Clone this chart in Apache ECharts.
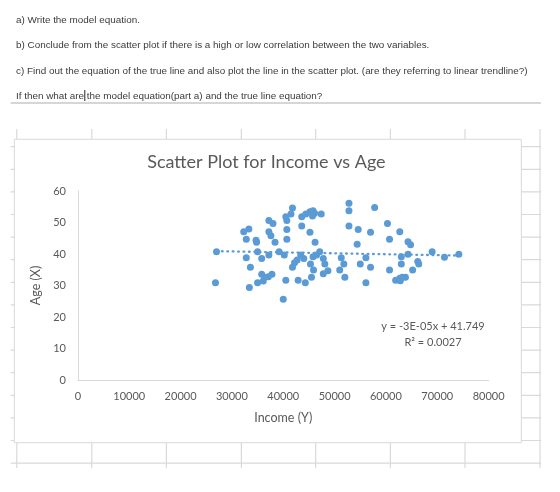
<!DOCTYPE html>
<html>
<head>
<meta charset="utf-8">
<script src="https://cdn.jsdelivr.net/npm/echarts@6/dist/echarts.min.js"></script>
<style>
html,body{margin:0;padding:0;background:#fff;}
#c{width:560px;height:492px;}
</style>
</head>
<body>
<div id="c"></div>
<script>
// ---- Data ----
const questionLines = [
  "a) Write the model equation.",
  "b) Conclude from the scatter plot if there is a high or low correlation between the two variables.",
  "c) Find out the equation of the true line and also plot the line in the scatter plot. (are they referring to linear trendline?)",
  "If then what are the model equation(part a) and the true line equation?"
];
const chartTitle = "Scatter Plot for Income vs Age";
const xAxisTitle = "Income (Y)";
const yAxisTitle = "Age (X)";
const trendEquation = "y = -3E-05x + 41.749";
const trendR2 = "R² = 0.0027";

// Income (x) values
const income = [
  27000, 26800, 32300, 33300, 32800, 34700, 34800, 35000, 32800, 33600,
  33400, 35000, 35800, 37200, 38000, 37200, 37600, 38400, 37200, 39200,
  35800, 36400, 37100, 37800, 40500, 40700, 41800, 41500, 40700, 40700,
  40200, 40500, 40000, 43600, 44400, 45200, 45800, 46100, 45700, 47400,
  43600, 45200, 46200, 42900, 44300, 41800, 42200, 42700, 43400, 44000,
  45300, 45900, 45500, 47100, 45800, 47800, 48100, 47800, 48700, 52800,
  52800, 52800, 54600, 57000, 57800, 54400, 51300, 51800, 51000, 52000,
  56100, 55000, 57000, 56100, 60300, 62700, 60700, 64300, 64800, 63000,
  64300, 63000, 60700, 66200, 66400, 65200, 69000, 71400, 74200, 61900,
  62700, 63200, 63800, 62800, 36100, 46500
];
// Age (y) values
const age = [
  40.7, 30.9, 47.1, 47.9, 44.7, 44.4, 43.7, 40.7, 38.8, 35.8,
  29.4, 30.9, 38.6, 50.6, 49.7, 47.1, 45.8, 43.7, 39.7, 40.7,
  33.6, 32.6, 32.8, 33.6, 51.8, 50.6, 54.6, 52.7, 47.8, 44.7,
  39.7, 31.7, 25.6, 51.8, 52.7, 53.4, 53.7, 52.9, 52.1, 52.7,
  48.9, 46.9, 43.7, 31.7, 30.9, 35.8, 37.2, 38.1, 39.7, 38.6,
  36.8, 34.9, 32.6, 40.7, 39.1, 38.6, 36.8, 33.7, 34.7, 56.1,
  53.7, 48.9, 47.8, 46.9, 54.8, 43.1, 38.8, 36.8, 34.9, 32.6,
  38.8, 36.8, 35.8, 30.9, 49.7, 47.1, 44.7, 43.9, 42.9, 39.1,
  39.9, 36.8, 34.9, 37.6, 36.8, 34.9, 40.7, 39.0, 39.9, 31.7,
  32.3, 32.6, 32.6, 31.5, 31.4, 39.7
];
// Linear trendline end points
const trendX = [27000, 74200];
const trendY = [40.9, 39.5];

const xTicks = [0, 10000, 20000, 30000, 40000, 50000, 60000, 70000, 80000];
const yTicks = [0, 10, 20, 30, 40, 50, 60];

// ---- Build ----
const scatterData = income.map((v, i) => [v, age[i]]);
const trendData = trendX.map((v, i) => [v, trendY[i]]);

const W = 560, H = 492;
const grey = '#595959';
const sheetLine = '#d9d9d9';

const graphics = [];
// Spreadsheet grid behind the chart
const colX = [16.8, 91.8, 166.4, 241.4, 315.7, 390.4, 465, 540];
colX.forEach(x => graphics.push({
  type: 'line', z: -20, silent: true,
  shape: {x1: x, y1: 129, x2: x, y2: 468},
  style: {stroke: sheetLine, lineWidth: 1.2}
}));
for (let k = 0; k < 15; k++) {
  const y = 146.7 + 22.6 * k;
  graphics.push({
    type: 'line', z: -20, silent: true,
    shape: {x1: 10.7, y1: y, x2: 541, y2: y},
    style: {stroke: sheetLine, lineWidth: 1.2}
  });
}
// Chart area box
graphics.push({
  type: 'rect', z: -10, silent: true,
  shape: {x: 14.3, y: 139.3, width: 507, height: 303.4},
  style: {fill: '#ffffff', stroke: '#d9d9d9', lineWidth: 1}
});
// Document text above
const lineY = [20.3, 45.6, 70.8, 96];
questionLines.forEach((t, i) => graphics.push({
  type: 'text', silent: true, x: 16, y: lineY[i],
  style: {text: t, font: '9.9px "Liberation Sans", Arial, sans-serif', fill: '#3a3a3a',
          textAlign: 'left', textVerticalAlign: 'middle'}
}));
// text cursor
graphics.push({
  type: 'line', silent: true,
  shape: {x1: 84.8, y1: 90, x2: 84.8, y2: 101},
  style: {stroke: '#222', lineWidth: 1}
});
// separator
graphics.push({
  type: 'line', silent: true,
  shape: {x1: 10.7, y1: 103, x2: 541, y2: 103},
  style: {stroke: '#d6d6d6', lineWidth: 2}
});
// Chart title
graphics.push({
  type: 'text', silent: true, x: 266.4, y: 161.7,
  style: {text: chartTitle, font: '18px Lato, sans-serif', fill: grey,
          textAlign: 'center', textVerticalAlign: 'middle'}
});
// Trendline label
graphics.push({
  type: 'text', silent: true, x: 433, y: 326.7,
  style: {text: trendEquation, font: '11px Lato, sans-serif', fill: grey,
          textAlign: 'center', textVerticalAlign: 'middle'}
});
graphics.push({
  type: 'text', silent: true, x: 433, y: 342.5,
  style: {text: trendR2, font: '11px Lato, sans-serif', fill: grey,
          textAlign: 'center', textVerticalAlign: 'middle'}
});

const chart = echarts.init(document.getElementById('c'), null, {renderer: 'canvas', width: W, height: H});
chart.setOption({
  backgroundColor: '#ffffff',
  animation: false,
  graphic: {elements: graphics},
  grid: {left: 77.9, right: W - 488.6, top: 191, bottom: H - 380, containLabel: false},
  xAxis: {
    type: 'value', min: xTicks[0], max: xTicks[xTicks.length - 1], interval: xTicks[1] - xTicks[0],
    name: xAxisTitle, nameLocation: 'middle', nameGap: 31,
    nameTextStyle: {color: grey, fontFamily: 'Lato', fontSize: 12.5},
    axisLine: {show: true, lineStyle: {color: '#d9d9d9', width: 1}},
    axisTick: {show: false},
    splitLine: {show: false},
    axisLabel: {color: grey, fontFamily: 'Lato', fontSize: 11, margin: 11,
                formatter: v => String(v)}
  },
  yAxis: {
    type: 'value', min: yTicks[0], max: yTicks[yTicks.length - 1], interval: yTicks[1] - yTicks[0],
    name: yAxisTitle, nameLocation: 'middle', nameGap: 31, nameRotate: 90,
    nameTextStyle: {color: grey, fontFamily: 'Lato', fontSize: 12.5},
    axisLine: {show: true, lineStyle: {color: '#d9d9d9', width: 1}},
    axisTick: {show: false},
    splitLine: {show: false},
    axisLabel: {color: grey, fontFamily: 'Lato', fontSize: 11, margin: 12,
                formatter: v => String(v)}
  },
  series: [
    {
      type: 'line', data: trendData, showSymbol: false, silent: true, z: 1,
      lineStyle: {color: '#5b9bd5', width: 2.3, type: [0.8, 4.6], cap: 'round'}
    },
    {
      type: 'scatter', data: scatterData, symbol: 'circle', symbolSize: 7, z: 2,
      itemStyle: {color: '#5b9bd5', opacity: 1}
    }
  ]
});
</script>
</body>
</html>
